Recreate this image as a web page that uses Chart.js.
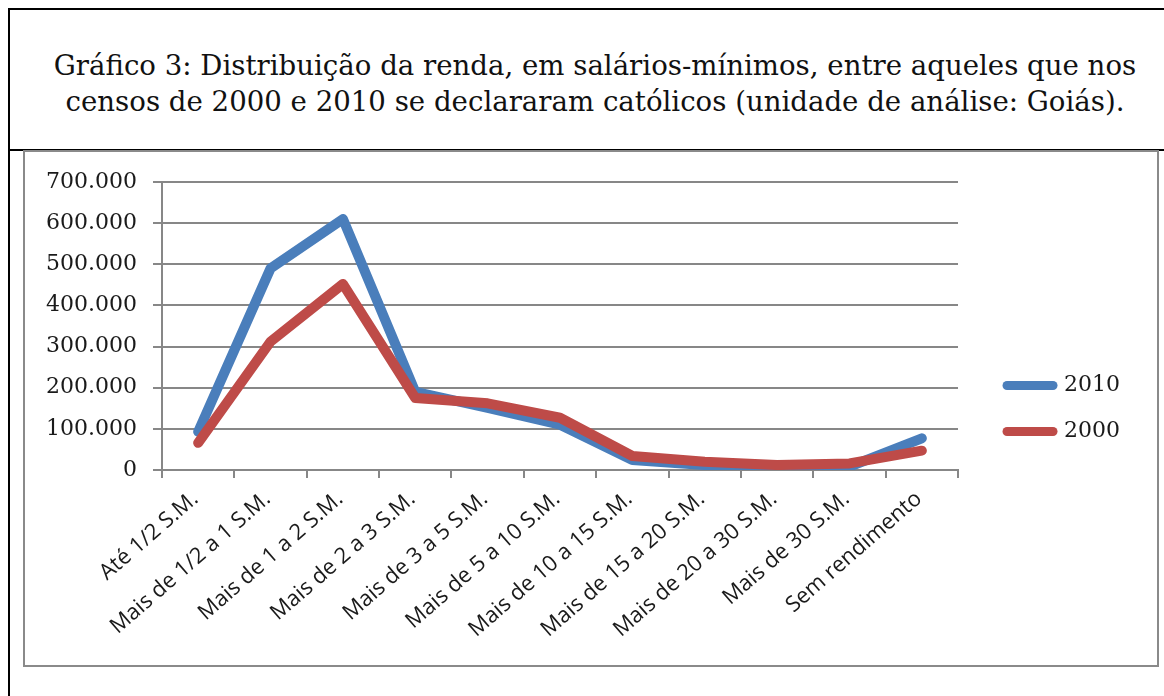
<!DOCTYPE html>
<html>
<head>
<meta charset="utf-8">
<script src="https://cdn.jsdelivr.net/npm/chart.js@4.4.0/dist/chart.umd.min.js"></script>
<style>
  html, body { margin: 0; padding: 0; background: #fff; }
  body { width: 1164px; height: 696px; overflow: hidden; position: relative; }
  #titlebox { position: absolute; left: 8px; top: 8px; width: 1170px; height: 139px; border: 2px solid #000; box-sizing: content-box; }
  #title { position: absolute; left: 0; right: 0; top: 38px; text-align: center; font-family: 'DejaVu Serif', serif; font-size: 27.6px; line-height: 35.5px; color: #111; white-space: nowrap; }
  #leftline { position: absolute; left: 8px; top: 150px; width: 2px; height: 546px; background: #000; }
  #chartbox { position: absolute; left: 23px; top: 150px; width: 1132px; height: 513px; border: 2px solid #8a8a8a; }
  #chart { display: block; }
</style>
</head>
<body>
<div id="titlebox"><div id="title">Gráfico 3: Distribuição da renda, em salários-mínimos, entre aqueles que nos<br>censos de 2000 e 2010 se declararam católicos (unidade de análise: Goiás).</div></div>
<div id="leftline"></div>
<div id="chartbox"><canvas id="chart" width="1132" height="513"></canvas></div>
<script>
const categories = [
  "Até 1/2 S.M.", "Mais de 1/2 a 1 S.M.", "Mais de 1 a 2 S.M.", "Mais de 2 a 3 S.M.",
  "Mais de 3 a 5 S.M.", "Mais de 5 a 10 S.M.", "Mais de 10 a 15 S.M.", "Mais de 15 a 20 S.M.",
  "Mais de 20 a 30 S.M.", "Mais de 30 S.M.", "Sem rendimento"
];
const values2010 = [93000, 490000, 610000, 190000, 151000, 110000, 24000, 12000, 6000, 8000, 77000];
const values2000 = [66000, 312000, 452000, 175000, 162000, 127000, 34000, 20000, 12000, 16000, 47000];
const seriesNames = ["2010", "2000"];
const yMin = 0, yMax = 700000, yStep = 100000;

const gridColor = '#878787';
const textColor = '#1a1a1a';

function fmt(v) { return String(v).replace(/\B(?=(\d{3})+(?!\d))/g, '.'); }

const defaultLabels = Chart.defaults.plugins.legend.labels.generateLabels;

new Chart(document.getElementById('chart'), {
  type: 'line',
  data: {
    labels: categories,
    datasets: [
      { label: seriesNames[0], data: values2010, borderColor: '#4A7EBB', backgroundColor: '#4A7EBB',
        borderWidth: 10, pointRadius: 0, pointHoverRadius: 0, borderCapStyle: 'round', borderJoinStyle: 'round', tension: 0, order: 1 },
      { label: seriesNames[1], data: values2000, borderColor: '#BE4B48', backgroundColor: '#BE4B48',
        borderWidth: 10, pointRadius: 0, pointHoverRadius: 0, borderCapStyle: 'round', borderJoinStyle: 'round', tension: 0, order: 0 }
    ]
  },
  options: {
    responsive: false,
    animation: false,
    events: [],
    layout: { padding: { top: 0, right: 27, left: 0, bottom: 0 } },
    plugins: {
      tooltip: { enabled: false },
      legend: {
        position: 'right',
        labels: {
          usePointStyle: true,
          pointStyle: 'line',
          pointStyleWidth: 46,
          padding: 24,
          color: textColor,
          font: { family: 'DejaVu Serif', size: 22 },
          sort: (a, b) => a.datasetIndex - b.datasetIndex,
          generateLabels(chart) {
            return defaultLabels(chart).map(it => Object.assign(it, { lineCap: 'round', lineWidth: 9 }));
          }
        }
      }
    },
    scales: {
      x: {
        offset: true,
        grid: { offset: true, drawOnChartArea: false, tickLength: 8, color: gridColor, lineWidth: 2 },
        border: { color: gridColor, width: 2 },
        ticks: { autoSkip: false, minRotation: 41, maxRotation: 41, padding: 8, labelOffset: -3, color: textColor,
                 font: { family: 'Open Sans', size: 22 } },
        afterFit(s) { s.height = 195; }
      },
      xTop: {
        type: 'linear', axis: 'x', position: 'top', display: true,
        grid: { display: false }, ticks: { display: false }, border: { display: false },
        afterFit(s) { s.height = 30; }
      },
      y: {
        min: yMin, max: yMax,
        ticks: { stepSize: yStep, padding: 16, color: textColor, font: { family: 'DejaVu Serif', size: 22 },
                 callback: v => fmt(v) },
        grid: { color: gridColor, lineWidth: 2, tickLength: 9 },
        border: { color: gridColor, width: 2 },
        afterFit(s) { s.width = 137; }
      },
      yR: {
        position: 'right', display: true,
        grid: { display: false }, ticks: { display: false }, border: { display: false },
        afterFit(s) { s.width = 25; }
      }
    }
  }
});
</script>
</body>
</html>
